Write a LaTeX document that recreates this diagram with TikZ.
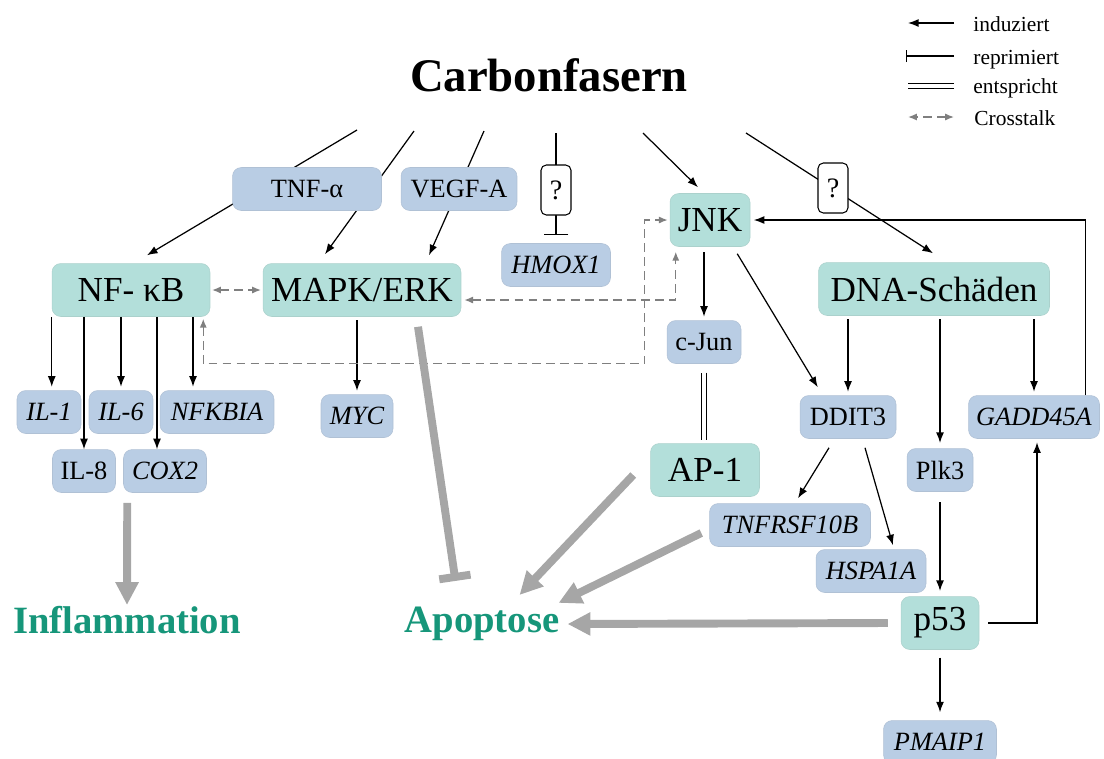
\documentclass[tikz,border=0pt]{standalone}
\usepackage{fontspec}
\setmainfont{Liberation Serif}
\usetikzlibrary{arrows.meta, positioning, calc, backgrounds}
\definecolor{cTeal}{HTML}{B3DFDA}
\definecolor{cBlue}{HTML}{B9CDE4}
\definecolor{cOut}{HTML}{16967A}
\definecolor{cThick}{HTML}{A6A6A6}
\definecolor{cDash}{HTML}{7F7F7F}
\tikzset{
  box/.style={
    rectangle, rounded corners=5pt, draw=#1!85!gray, line width=0.3pt,
    fill=#1, inner sep=0pt
  },
  tbox/.style={box=cTeal, minimum height=1.06cm, font=\fontsize{20}{24}\selectfont},
  bbox/.style={box=cBlue, minimum height=0.86cm, font=\fontsize{15}{18}\selectfont},
  ibox/.style={bbox, font=\fontsize{15}{18}\selectfont\itshape},
  qbox/.style={
    rectangle, rounded corners=3pt, draw, fill=white, line width=0.6pt,
    minimum width=0.6cm, minimum height=1cm, inner sep=0pt,
    font=\fontsize{16}{18}\selectfont
  },
  outcome/.style={font=\bfseries\fontsize{22}{26}\selectfont, text=cOut, inner sep=0.5pt},
  legend/.style={anchor=base west, font=\fontsize{12.2}{14}\selectfont, inner sep=0pt},
  arrow/.style={-{Latex[length=6pt, width=4.5pt]}, line width=0.7pt},
  inhib/.style={-{Bar[width=#1]}, line width=0.7pt},
  inhib/.default=14pt,
  equiv/.style={double, double distance=2pt, line width=0.5pt},
  cross/.style={{Latex[length=5pt, width=4pt]}-{Latex[length=5pt, width=4pt]},
    cDash, dash pattern=on 5pt off 3pt, line width=0.8pt},
  garrow/.style={-{Triangle[length=13pt, width=12.5pt]}, cThick, line width=4.5pt},
  gbar/.style={-{Bar[width=18pt]}, cThick, line width=4.5pt},
}

\begin{document}
\begin{tikzpicture}[x=0.02cm, y=-0.02cm]
  \useasboundingbox (0,0) rectangle (1104,758);

  % Title and legend
  \node[font=\bfseries\fontsize{26.6}{30}\selectfont, inner sep=0pt] (cf) at (549,75) {Carbonfasern};

  \node[legend] (lind) at (973,31)  {induziert};
  \node[legend] (lrep) at (973,64)  {reprimiert};
  \node[legend] (lequ) at (973,93)  {entspricht};
  \node[legend] (lcro) at (974,125) {Crosstalk};
  \draw[arrow]     ($(lind.base west)+(-19,-8)$) -- ++(-46,0);
  \draw[inhib=7pt] ($(lrep.base west)+(-19,-8)$) -- ++(-48,0);
  \draw[equiv]     ($(lequ.base west)+(-19,-7)$) -- ++(-46,0);
  \draw[cross]     ($(lcro.base west)+(-20,-8)$) -- ++(-46,0);

  % Row 1: mediators
  \node[bbox, minimum width=2.98cm] (tnf)  at (307,189) {TNF-α};
  \node[bbox, minimum width=2.32cm] (vegf) at (459,189) {VEGF-A};
  \node[qbox]                       (q1)   at (556,190) {?};
  \node[ibox, minimum width=2.18cm] (hmox) at (556,265) {HMOX1};
  \node[qbox]                       (q2)   at (833,188) {?};

  % Row 2: pathways
  \node[tbox, minimum width=3.16cm] (nfkb) at (131,290) {NF- κB};
  \node[tbox, minimum width=3.96cm] (mapk) at (362,290) {MAPK/ERK};
  \node[tbox, minimum width=1.6cm]  (jnk)  at (710,220) {JNK};
  \node[tbox, minimum width=4.62cm] (dna)  at (934,289) {DNA-Schäden};

  % NF-kB and MAPK targets
  \node[ibox, minimum width=1.28cm] (il1)    at (49,412)  {IL-1};
  \node[ibox, minimum width=1.28cm] (il6)    at (121,412) {IL-6};
  \node[ibox, minimum width=2.28cm] (nfkbia) at (217,412) {NFKBIA};
  \node[bbox, minimum width=1.26cm] (il8)    at (84,471)  {IL-8};
  \node[ibox, minimum width=1.66cm] (cox2)   at (165,471) {COX2};
  \node[ibox, minimum width=1.44cm] (myc)    at (357,416) {MYC};

  % JNK and DNA damage targets
  \node[bbox, minimum width=1.48cm] (cjun)   at (704,342)  {c-Jun};
  \node[tbox, minimum width=2.18cm] (ap1)    at (705,470)  {AP-1};
  \node[bbox, minimum width=1.92cm] (ddit)   at (848,417)  {DDIT3};
  \node[ibox, minimum width=2.62cm] (gadd)   at (1034,417) {GADD45A};
  \node[ibox, minimum width=3.22cm] (tnfrsf) at (790,525)  {TNFRSF10B};
  \node[ibox, minimum width=2.2cm]  (hspa)   at (871,571)  {HSPA1A};
  \node[bbox, minimum width=1.32cm] (plk3)   at (940,470)  {Plk3};
  \node[tbox, minimum width=1.56cm] (p53)    at (940,623)  {p53};
  \node[ibox, minimum width=2.26cm] (pmaip)  at (940,742)  {PMAIP1};

  % Outcomes
  \node[outcome] (infl) at (127,620) {Inflammation};
  \node[outcome] (apop) at (482,624) {Apoptose};

  % Carbonfasern inputs
  \coordinate (cf1) at (357,130);
  \coordinate (cf2) at (414,131);
  \coordinate (cf3) at (484,131);
  \coordinate (cf4) at (556,133);
  \coordinate (cf5) at (643,133);
  \coordinate (cf6) at (746,133);
  \begin{scope}[on background layer]
    \draw[arrow] (cf1) -- ($(nfkb.north)+(16,-8)$);
    \draw[arrow] (cf2) -- ($(mapk.north)+(-37,-9)$);
    \draw[arrow] (cf3) -- ($(mapk.north)+(67,-8)$);
    \draw[inhib] (cf4) -- ($(hmox.north)+(0,-8)$);
    \draw[arrow] (cf6) -- ($(dna.north)+(-1,-9)$);
  \end{scope}
  \draw[arrow] (cf5) -- ($(jnk.north)+(-12,-6)$);

  % NF-kB -> genes
  \draw[arrow, shorten >=2pt] (nfkb.south west) -- (nfkb.south west |- il1.north);
  \draw[arrow] (nfkb.south -| il8.north) -- (il8.north);
  \draw[arrow, shorten >=2pt] (nfkb.south -| il6.north) -- (il6.north);
  \draw[arrow] ($(nfkb.south)+(26,0)$) -- ($(cox2.north)+(-8,0)$);
  \draw[arrow, shorten >=2pt] ($(nfkb.south)+(62,0)$) -- ($(nfkbia.north)+(-24,0)$);
  \draw[arrow, shorten <=2pt, shorten >=2pt] (mapk.south -| myc.north) -- (myc.north);

  % JNK branch
  \draw[arrow, shorten <=3pt, shorten >=2pt] (jnk.south -| cjun.north) -- (cjun.north);
  \draw[arrow] ($(jnk.south east)+(-13,7)$) -- ($(ddit.north west)+(18,-8)$);
  \draw[equiv, shorten <=5pt, shorten >=2pt] (cjun.south) -- (cjun.south |- ap1.north);

  % DNA damage branch
  \draw[arrow, shorten <=2pt, shorten >=2pt] (dna.south -| ddit.north) -- (ddit.north);
  \draw[arrow, shorten <=2pt, shorten >=3pt] (dna.south -| plk3.north) -- (plk3.north);
  \draw[arrow, shorten <=2pt, shorten >=2pt] (dna.south -| gadd.north) -- (gadd.north);
  \draw[arrow, shorten >=2pt] ($(gadd.north east)+(-14,0)$) |- (jnk.east);
  \draw[arrow] ($(ddit.south)+(-19,9)$) -- ($(tnfrsf.north)+(8,-5)$);
  \draw[arrow] ($(ddit.south)+(17,9)$) -- ($(hspa.north)+(22,-4)$);
  \draw[arrow, shorten <=6pt, shorten >=3pt] (plk3.south) -- (p53.north);
  \draw[arrow, shorten <=4.5pt, shorten >=4.5pt] (p53.south) -- (pmaip.north);
  \draw[arrow, shorten >=2pt] ($(p53.east)+(9,0)$) -| ($(gadd.south)+(3,0)$);

  % Crosstalk
  \draw[cross, shorten <=1pt, shorten >=1pt] (nfkb.east) -- (mapk.west);
  \draw[cross] ($(mapk.east)+(3,10)$) -| ($(jnk.south west)+(6,5)$);
  \draw[cross] ($(nfkb.south east)+(-7,2)$) -- ++(0,45)
    -| ($(jnk.west)+(-25,0)$) -- ($(jnk.west)+(-2,0)$);

  % Outcome arrows
  \draw[garrow] ($(cox2.south west)+(4,10)$) -- (infl.north);
  \draw[gbar]   ($(mapk.south)+(56,10)$) -- ($(apop.north west)+(52,-25)$);
  \draw[garrow] ($(ap1.west)+(-17,5)$) -- ($(apop.north east)+(-41,-11)$);
  \draw[garrow] ($(tnfrsf.west)+(-8,8)$) -- ($(apop.north east)+(-2,-3)$);
  \draw[garrow] ($(p53.west)+(-13,0)$) -- ($(apop.east)+(7,0)$);
\end{tikzpicture}
\end{document}
